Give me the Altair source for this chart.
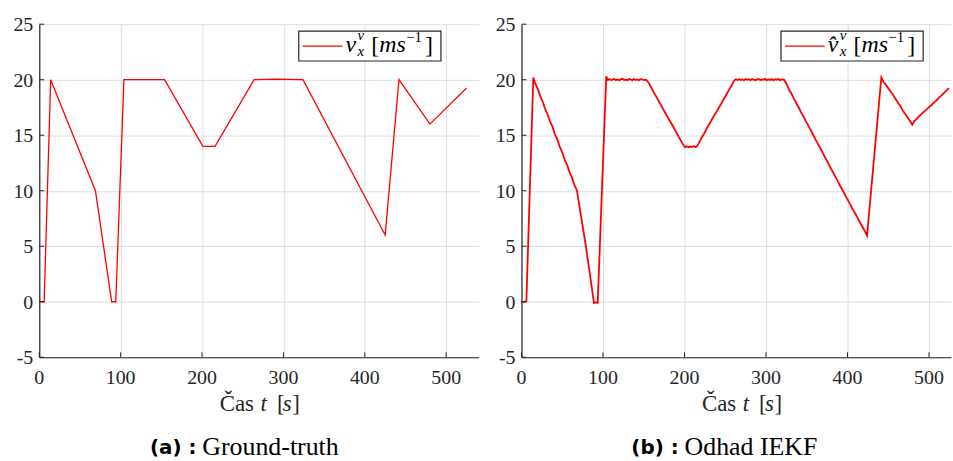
import altair as alt
import pandas as pd

# Ground-truth longitudinal velocity v_x^v (breakpoints of the profile)
gt_t = [0, 6, 14, 69, 89, 94, 104, 154, 201, 216, 264, 291, 324, 425, 442, 480, 525]
gt_v = [0, 0, 20, 10, 0, 0, 20, 20, 14, 14, 20, 20.05, 20, 6, 20, 16, 19.25]

# IEKF estimate of the same velocity
est_t = [0, 2, 4, 6, 14.5,
         17, 20, 23, 26, 29, 32, 35, 38, 41, 44, 47, 50, 53, 56, 59, 62, 65, 68,
         79, 89, 91, 93.5, 104,
         106, 108, 110, 112, 114, 116, 118, 120, 122, 124, 126, 128, 130, 132, 134,
         136, 138, 140, 142, 144, 146, 148, 150, 153,
         156, 159, 162, 165, 168, 171, 174, 177, 180, 183, 186, 189, 192, 195, 198, 200.5,
         203, 205, 207, 209, 211, 213, 215,
         218, 221, 224, 227, 230, 233, 236, 239, 242, 245, 248, 251, 254, 257, 261,
         263, 265, 267, 269, 271, 273, 275, 277, 279, 281, 283, 285, 287, 289, 291,
         293, 295, 297, 299, 301, 303, 305, 307, 309, 311, 313, 315, 317, 319, 322,
         325, 328, 331, 334, 337, 340, 343, 346, 349, 352, 355, 358, 361, 364, 367,
         370, 373, 376, 379, 382, 385, 388, 391, 394, 397, 400, 403, 406, 409, 412,
         415, 418, 421, 424, 441.5,
         444, 447, 450, 453, 456, 459, 462, 465, 468, 471, 474, 477, 479.5,
         482, 485, 488, 491, 494, 497, 500, 503, 506, 509, 512, 515, 518, 521, 524.5]
est_v = [0.0, -0.04, 0.02, 0.04, 20.2,
         19.62, 19.16, 18.52, 18.03, 17.36, 16.88, 16.24, 15.77, 15.1, 14.62, 13.95, 13.47,
         12.8, 12.33, 11.66, 11.18, 10.5, 10.03,
         5.0, -0.12, -0.06, -0.1, 20.3,
         19.98, 20.06, 19.95, 20.03, 20.07, 19.96, 20.02, 19.94, 20.05, 20.08, 19.97, 20.01,
         19.95, 20.06, 20.0, 19.96, 20.07, 19.97, 20.03, 19.95, 20.05, 20.02, 19.96, 20.0,
         19.72, 19.33, 18.88, 18.52, 18.12, 17.73, 17.33, 16.93, 16.54, 16.17, 15.78, 15.38,
         14.98, 14.58, 14.2, 13.92,
         14.0, 13.92, 13.98, 13.93, 14.01, 13.94, 13.99,
         14.33, 14.78, 15.13, 15.57, 15.97, 16.33, 16.73, 17.08, 17.47, 17.83, 18.24, 18.6,
         19.02, 19.38, 19.92,
         20.03, 19.97, 20.05, 19.98, 20.02, 19.95, 20.06, 19.99, 20.04, 19.96, 20.07,
         20.0, 19.95, 20.04, 20.06, 19.97, 20.03, 19.99, 20.07, 19.96, 20.02, 19.98,
         20.05, 19.95, 20.04, 20.0, 20.06, 19.96, 20.02, 20.0,
         19.66, 19.14, 18.78, 18.32, 17.93, 17.52, 17.07, 16.68, 16.24, 15.86, 15.43, 15.02,
         14.58, 14.17, 13.78, 13.37, 12.93, 12.52, 12.09, 11.7, 11.27, 10.87, 10.43, 10.04,
         9.62, 9.22, 8.82, 8.38, 8.02, 7.6, 7.18, 6.8, 6.38, 5.95, 20.2,
         19.82, 19.55, 19.24, 18.92, 18.62, 18.27, 17.93, 17.62, 17.2, 16.88, 16.57, 16.23,
         15.95,
         16.27, 16.47, 16.72, 16.92, 17.13, 17.33, 17.53, 17.72, 17.93, 18.12, 18.37, 18.57,
         18.78, 19.0, 19.25]

x_ticks = [0, 100, 200, 300, 400, 500]
y_ticks = [-5, 0, 5, 10, 15, 20, 25]
x_tick_labels = ["0", "100", "200", "300", "400", "500"]
y_tick_labels = ["-5", "0", "5", "10", "15", "20", "25"]

SERIF = "'Liberation Serif', 'Times New Roman', 'DejaVu Serif', serif"
INK = "#262626"
H = 335

one_row = pd.DataFrame({"k": [0]})


def text(s, x, y, size=21, align="left", baseline="alphabetic", font=SERIF,
         style="normal", weight="normal", color="#000000"):
    return alt.Chart(one_row).mark_text(
        align=align, baseline=baseline, font=font, fontSize=size,
        fontStyle=style, fontWeight=weight, color=color,
    ).encode(x=alt.value(x), y=alt.value(y), text=alt.value(s))


def panel(t, v, xmax, width, hat, tag, caption, stroke_w):
    df = pd.DataFrame({"t": t, "v": v})
    x_enc = alt.X(
        "t:Q",
        scale=alt.Scale(domain=[0, xmax], nice=False, zero=False),
        axis=alt.Axis(values=x_ticks, labels=False, title=None, tickSize=0),
    )
    y_enc = alt.Y(
        "v:Q",
        scale=alt.Scale(domain=[-5, 25], nice=False, zero=False),
        axis=alt.Axis(values=y_ticks, labels=False, title=None, tickSize=0),
    )
    line = alt.Chart(df).mark_line(color="#ff0000", strokeWidth=stroke_w).encode(
        x=x_enc, y=y_enc
    )
    # inward tick marks, MATLAB style
    xt = alt.Chart(pd.DataFrame({"t": x_ticks})).mark_rule(color=INK).encode(
        x=x_enc, y=alt.value(H), y2=alt.value(H - 5)
    )
    yt = alt.Chart(pd.DataFrame({"v": y_ticks})).mark_rule(color=INK).encode(
        y=y_enc, x=alt.value(0), x2=alt.value(5)
    )
    # tick labels in a serif face
    xl = alt.Chart(pd.DataFrame({"t": x_ticks, "lab": x_tick_labels})).mark_text(
        font=SERIF, fontSize=20, color=INK, baseline="alphabetic", align="center"
    ).encode(x=x_enc, y=alt.value(H + 27), text="lab:N")
    yl = alt.Chart(pd.DataFrame({"v": y_ticks, "lab": y_tick_labels})).mark_text(
        font=SERIF, fontSize=20, color=INK, baseline="alphabetic", align="right",
        dy=7,
    ).encode(y=y_enc, x=alt.value(-6), text="lab:N")
    # axis title: Čas t [s]
    xtitle = [
        text("Čas", 181.5, H + 54, size=23, color=INK),
        text("t", 222.5, H + 54, size=23, style="italic", color=INK),
        text("[", 239, H + 54, size=23, color=INK),
        text("s", 245, H + 54, size=23, style="italic", color=INK),
        text("]", 254.5, H + 54, size=23, color=INK),
    ]
    # legend box
    box = alt.Chart(one_row).mark_rect(
        fill="white", stroke=INK, strokeWidth=1.2
    ).encode(x=alt.value(261), x2=alt.value(404), y=alt.value(7), y2=alt.value(37))
    sample = alt.Chart(one_row).mark_rule(color="#ff0000", strokeWidth=1.3).encode(
        x=alt.value(265), x2=alt.value(305), y=alt.value(22)
    )
    sym = "v\u0302" if hat else "v"
    legend = [
        box, sample,
        text(sym, 308, 28, size=24, style="italic"),
        text("v", 320, 16, size=15, style="italic"),
        text("x", 320, 32, size=15, style="italic"),
        text("[", 334, 29, size=24),
        text("ms", 342, 28, size=24, style="italic"),
        text("−1", 369, 18, size=15),
        text("]", 388, 29, size=24),
    ]
    cap = [
        text(tag, 158, 432, size=20, align="right", font="DejaVu Sans",
             weight="bold"),
        text(caption, 164, 433, size=26),
    ]
    return alt.layer(line, xt, yt, xl, yl, *xtitle, *legend, *cap).properties(
        width=width, height=H
    )


left = panel(gt_t, gt_v, 540, 442, False, "(a) :", "Ground-truth", 1.3)
right = panel(est_t, est_v, 527, 432, True, "(b) :", "Odhad IEKF", 1.8)

chart = alt.hconcat(left, right, spacing=17).resolve_scale(x="independent").configure(
    padding={"left": 13.5, "top": 14, "right": 0, "bottom": 0},
).configure_view(stroke=None).configure_axis(
    domainColor=INK, domainWidth=1.2, gridColor="#dedede", gridWidth=1,
)

chart.save("out.html", embed_options={"renderer": "svg", "actions": False})
